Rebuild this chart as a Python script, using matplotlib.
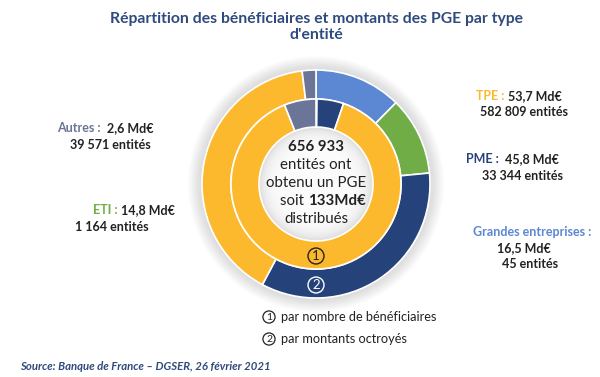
import numpy as np
import matplotlib.pyplot as plt
from matplotlib.patches import Circle

plt.rcParams['font.family'] = ['Lato', 'DejaVu Sans']

# données
categories = ['Grandes entreprises', 'ETI', 'PME', 'TPE', 'Autres']
montants = [16.5, 14.8, 45.8, 53.7, 2.6]          # Md€
beneficiaires = [45, 1164, 33344, 582809, 39571]  # entités
couleurs = ['#5B87D3', '#70AD47', '#25437A', '#FDB92E', '#6B7597']

titre = "Répartition des bénéficiaires et montants des PGE par type\nd'entité"
source = "Source: Banque de France – DGSER, 26 février 2021"
bleu_titre = '#2F4B7C'

fig = plt.figure(figsize=(6, 3.77), dpi=100)
ax = fig.add_axes([0, 0, 1, 1])

cx, cy = 316, 184
r_out, r_mid, r_in = 114, 85, 57

# halo gris autour de l'anneau
for r in np.linspace(r_out + 14, r_out, 14):
    ax.add_patch(Circle((cx, cy), r, fc='#808080', ec='none', alpha=0.018, zorder=0))

# ombre intérieure du disque central
ax.add_patch(Circle((cx, cy), r_in, fc='#dadada', ec='none', zorder=1))
for r in np.linspace(r_in - 1, r_in - 22, 12):
    ax.add_patch(Circle((cx, cy), r, fc='white', ec='none', alpha=0.22, zorder=1))

# anneau extérieur : montants, anneau intérieur : nombre
ax.pie(montants, colors=couleurs, radius=r_out, center=(cx, cy),
       startangle=-90, counterclock=True,
       wedgeprops=dict(width=r_out - r_mid, edgecolor='white', linewidth=1.2))
ax.pie(beneficiaires, colors=couleurs, radius=r_mid, center=(cx, cy),
       startangle=-90, counterclock=True,
       wedgeprops=dict(width=r_mid - r_in, edgecolor='white', linewidth=1.2))

ax.set_xlim(0, 600)
ax.set_ylim(377, 0)
ax.set_aspect('equal')
ax.axis('off')

# texte central
fs_c = 10.8
ax.text(cx, 147, '656 933', ha='center', va='center', fontsize=fs_c, fontweight='bold', color='#222222')
ax.text(cx, 165, 'entités ont', ha='center', va='center', fontsize=fs_c, color='#222222')
ax.text(cx, 183, 'obtenu un PGE', ha='center', va='center', fontsize=fs_c, color='#222222')
ax.text(cx - 8, 201, 'soit ', ha='right', va='center', fontsize=fs_c, color='#222222')
ax.text(cx - 8, 201, '133Md€', ha='left', va='center', fontsize=fs_c, fontweight='bold', color='#222222')
ax.text(cx, 219, 'distribués', ha='center', va='center', fontsize=fs_c, color='#222222')

# numéros cerclés
ax.text(cx, 256, '1', ha='center', va='center', fontsize=9.5, color='#222222',
        bbox=dict(boxstyle='circle,pad=0.15', fc='none', ec='#222222', lw=1))
ax.text(cx, 285, '2', ha='center', va='center', fontsize=9.5, color='white',
        bbox=dict(boxstyle='circle,pad=0.15', fc='none', ec='white', lw=1))

# étiquettes
lab = dict(fontsize=9, fontweight='bold', va='center')
ax.text(508, 96, 'TPE : ', ha='right', color=couleurs[3], **lab)
ax.text(508, 96, '53,7 Md€', ha='left', color='#222222', **lab)
ax.text(524, 112, '582 809 entités', ha='center', color='#222222', **lab)

ax.text(502, 159, 'PME : ', ha='right', color=couleurs[2], **lab)
ax.text(502, 159, ' 45,8 Md€', ha='left', color='#222222', **lab)
ax.text(522, 176, '33 344 entités', ha='center', color='#222222', **lab)

ax.text(532, 232, 'Grandes entreprises :', ha='center', color=couleurs[0], **lab)
ax.text(524, 248, '16,5 Md€', ha='center', color='#222222', **lab)
ax.text(530, 264, '45 entités', ha='center', color='#222222', **lab)

ax.text(104, 128, 'Autres : ', ha='right', color=couleurs[4], **lab)
ax.text(104, 128, ' 2,6 Md€', ha='left', color='#222222', **lab)
ax.text(110, 145, '39 571 entités', ha='center', color='#222222', **lab)

ax.text(121, 210, 'ETI : ', ha='right', color=couleurs[1], **lab)
ax.text(121, 210, '14,8 Md€', ha='left', color='#222222', **lab)
ax.text(112, 227, '1 164 entités', ha='center', color='#222222', **lab)

# légende
ax.text(269, 317, '1', ha='center', va='center', fontsize=7.5, color='#222222',
        bbox=dict(boxstyle='circle,pad=0.15', fc='none', ec='#222222', lw=0.9))
ax.text(281, 317, 'par nombre de bénéficiaires', ha='left', va='center', fontsize=9.2, color='#222222')
ax.text(269, 339, '2', ha='center', va='center', fontsize=7.5, color='#222222',
        bbox=dict(boxstyle='circle,pad=0.15', fc='none', ec='#222222', lw=0.9))
ax.text(281, 339, 'par montants octroyés', ha='left', va='center', fontsize=9.2, color='#222222')

# titre et source
ax.text(316, 27, titre, ha='center', va='center', fontsize=11.3, fontweight='bold',
        color=bleu_titre, linespacing=1.25)
ax.text(20, 366, source, ha='left', va='center', fontsize=8.2, fontweight='bold',
        fontstyle='italic', color=bleu_titre)

fig.savefig('out.png', dpi=100)
